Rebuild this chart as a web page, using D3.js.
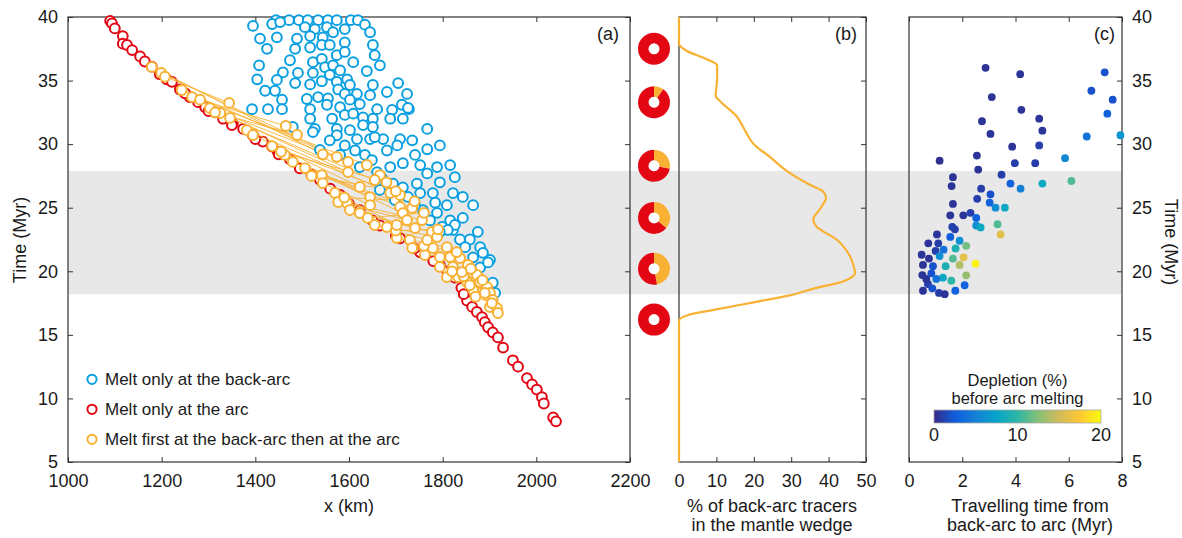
<!DOCTYPE html>
<meta charset="utf-8">
<head>
    <script src="https://d3js.org/d3.v7.min.js"></script>
    <style>
        body { margin: 0; background: #fff; }
        svg text { font-family: "Liberation Sans", Arial, Helvetica, sans-serif; }
    </style>
</head>
<body>
<svg></svg>
<script>

    // ---- data ----

    // (a) tracers that melt only at the arc (x in km, time in Myr)
    var redX = [1090,1094,1100,1117,1117,1126,1137,1154,1164,1179,1196,1211,1222,1239,1260,1278,1293,1314,1331,1352,
        1374,1395,1416,1436,1448,1474,1495,1538,1581,1623,1666,1709,1752,1794,1826,1852,1863,1873,1884,1890,
        1897,1907,1918,1929,1950,1961,1980,1991,2001,2012,2016,2036,2042,
        1250,1300,1350,1400,1450,1520,1560,1600,1650,1700,1740,1780,1810,1840,1845];
    var redT = [39.7,39.5,39.1,38.5,37.9,37.8,37.4,36.9,36.5,36.1,35.5,35.1,34.9,34.3,33.7,33.3,32.9,32.5,32.0,31.6,
        31.2,30.7,30.2,29.8,29.4,28.8,28.1,27.2,26.0,24.8,23.6,22.6,21.5,20.5,19.5,17.7,17.2,16.8,16.4,16.0,
        15.6,15.2,14.8,14.0,13.0,12.5,11.6,11.1,10.7,10.1,9.6,8.5,8.2,
        34.0,32.6,31.5,30.4,29.2,27.6,26.5,25.3,24.0,22.8,21.8,20.8,20.0,18.7,18.2];

    // (a) tracers that melt only at the back-arc
    var blueX = [1444,1472,1493,1512,1534,1555,1574,1604,1619,1395,1436,1453,1506,1527,1553,1566,1591,1634,1645,1410,
        1446,1489,1517,1544,1591,1651,1425,1485,1517,1542,1559,1574,1591,1655,1474,1523,1542,1549,1566,1609,
        1666,1408,1638,1459,1491,1523,1559,1581,1596,1404,1446,1485,1517,1542,1574,1602,1651,1705,1421,1442,
        1510,1534,1555,1577,1591,1617,1645,1681,1724,1457,1393,1427,1457,1517,1553,1581,1602,1623,1660,1692,
        1713,1728,1517,1564,1591,1609,1630,1651,1688,1715,1527,1574,1602,1630,1651,1767,1574,1617,1645,1673,
        1709,1767,1523,1655,1794,1741,1715,1688,1660,1623,1752,1788,1816,1794,1767,1745,1715,1694,1666,1779,
        1752,1822,1843,1865,1809,1758,1788,1843,1816,1799,1822,1875,1837,1858,1880,1848,1886,1901,1865,1880,
        1726,1826,1784,1826,1811,1897,1907,1912,1480,1591,1613,1634,1681,1703,1735,1649,1670,1698,1726,1741,
        1773,1794,1538,1559,1581];
    var blueT = [39.75,39.75,39.75,39.75,39.75,39.75,39.75,39.75,39.75,39.3,39.45,39.6,39.2,39.05,39.2,38.8,39.05,39.4,38.8,38.3,
        38.4,38.3,38.5,38.4,38.0,37.8,37.5,37.5,37.6,37.8,37.8,37.0,37.25,37.0,36.6,36.45,36.7,36.05,36.2,36.45,
        36.2,36.2,35.75,35.65,35.6,35.6,35.45,35.8,35.1,35.1,35.05,34.8,34.7,34.95,34.9,34.65,34.65,34.8,34.2,34.2,
        33.55,33.7,33.6,34.3,33.95,33.95,33.85,34.1,33.95,33.5,32.75,32.75,32.75,32.75,33.1,32.9,33.5,33.15,32.75,32.7,
        33.1,32.75,32.0,32.0,32.3,32.4,32.1,32.0,32.0,32.0,31.2,31.2,31.1,31.5,31.35,31.2,30.7,30.4,30.4,30.4,
        30.4,29.6,30.95,30.55,29.9,29.15,28.5,28.2,27.8,28.2,28.35,28.2,28.35,27.0,27.7,26.9,26.6,26.9,26.4,26.15,
        26.15,26.15,25.85,25.2,25.2,24.8,24.6,24.2,24.0,23.5,23.25,23.1,22.5,22.5,21.9,21.9,21.45,20.9,21.1,20.3,
        32.85,27.4,25.4,23.65,23.25,20.7,19.1,18.3,31.35,29.9,29.5,29.15,29.5,29.9,30.3,28.75,27.35,25.6,25.85,25.2,
        24.0,23.1,29.55,30.3,29.15];

    // (a) tracers that melt first at the back-arc then at the arc: arc position and back-arc position
    var orangeArcX = [1179,1199,1243,1265,1303,1325,1346,1382,1395,1436,1463,1480,1506,1542,1544,1570,1577,1596,1602,1623,
        1655,1681,1702,1730,1735,1762,1779,1794,1809,1822,1833,1852,1865,1880,1895,1901,1282,1314,1207,1858,
        1870,1845,1820,1760,1700,1640,1590,1520,1455];
    var orangeArcT = [36.07,35.6,34.26,33.7,32.84,32.45,32.06,31.1,30.72,29.85,29.15,28.6,28.12,27.57,26.94,26.16,25.45,25.37,24.82,24.58,
        23.64,23.48,22.62,22.46,21.83,21.28,21.83,20.34,19.55,20.34,19.55,19.16,18.53,19.08,18.13,17.19,33.5,32.5,35.3,18.9,
        18.0,19.6,20.0,22.0,23.2,24.2,25.8,27.5,29.4];
    var orangeBackX = [1544,1574,1598,1638,1666,1598,1655,1688,1623,1709,1645,1709,1735,1715,1645,1702,1724,1756,1741,1777,
        1767,1788,1809,1794,1816,1837,1854,1841,1865,1873,1880,1895,1901,1907,1916,1918,1465,1489,1344,1890,
        1905,1885,1860,1830,1790,1760,1740,1700,1680];
    var orangeBackT = [29.2,29.0,28.6,28.36,27.57,27.8,27.18,26.16,26.63,26.0,25.84,25.06,24.98,24.58,25.2,23.64,24.03,24.03,23.4,23.09,
        22.46,22.7,21.9,21.12,21.12,21.04,20.5,19.94,19.87,19.71,19.16,18.76,18.3,17.74,17.11,16.72,31.43,30.72,33.24,18.3,
        17.5,19.3,20.2,21.5,23.3,24.6,25.5,26.3,27.0];

    // (b) % of back-arc tracers in the mantle wedge
    var wedgeT = [40,37.9,37.35,36.7,36.2,35.2,33.8,33.3,32.2,31.1,30.0,29.0,27.9,26.8,26.25,25.8,24.9,24.1,23.5,22.5,
        21.4,20.3,19.9,19.2,18.7,18.1,17.6,17.0,16.6,16.1,5];
    var wedgePct = [0,0,2,7.3,10.2,10.2,9.8,11.3,15.4,17.6,20,24.3,28.8,35,38.6,39.3,37.7,35.9,36.8,42.1,
        45.3,46.8,47.1,43.9,36.8,29.6,20.7,10,2.9,0,0];

    // pie charts: share (%) of arc tracers that melted before at the back-arc
    var donutT = [37.5, 33.3, 28.3, 24.2, 20.2, 16.2];
    var donutOrange = [0, 10, 28, 36, 47, 0];

    // (c) travelling time (Myr), time (Myr), depletion (%)
    var travelX = [2.875,4.175,7.35,6.85,7.65,3.11,4.22,7.45,2.74,4.89,
        5.01,3.06,6.675,7.94,3.875,4.89,5.86,2.55,1.15,3.975,
        4.74,2.6,1.65,3.475,6.1,5.01,3.81,4.19,1.6,2.71,
        3.06,2.56,1.65,3.03,3.25,3.6,1.55,2.04,2.31,2.525,
        3.325,1.625,1.725,2.525,2.69,3.44,1.05,1.55,1.9,0.725,
        1.1,1.75,2.15,1.0,1.3,0.475,0.75,1.15,1.65,2.05,
        2.5,1.9,1.375,0.525,0.9,0.5,0.84,1.275,1.59,2.15,
        0.71,0.875,0.525,1.125,1.34,1.74,2.09,1.025,0.65];
    var travelT = [36.0,35.5,35.65,34.2,33.5,33.7,32.7,32.4,31.8,32.0,
        31.06,30.8,30.6,30.7,29.8,29.9,28.9,29.1,28.7,28.5,
        28.5,28.0,27.4,27.6,27.1,26.9,26.9,26.5,26.7,26.5,
        26.05,25.7,25.3,25.4,25.0,25.0,24.4,24.4,24.6,24.2,
        23.7,23.5,23.3,23.6,23.45,22.9,22.9,22.7,22.4,22.2,
        22.2,21.8,22.0,21.6,21.7,21.3,21.0,21.2,21.0,21.1,
        20.6,20.5,20.4,20.5,20.4,19.7,19.84,19.5,19.26,19.68,
        19.0,18.66,18.47,18.3,18.2,18.47,18.9,19.4,19.4];
    var depletion = [0.5,0.5,2,2,2,0.5,0.5,3,0.5,0.5,
        0.5,0.5,4,6.5,0.5,1,5.5,0.5,0.3,1,
        1,0.5,0.5,1,11,8,3,5,0.5,1,
        2,1,0.5,3,6,8,0.5,0.5,1,3,
        11,1,1,6,8,16,0.5,2.5,6,0.5,
        1,9,12,1,4,0.5,0.5,6,11,16,
        19.5,14,9,0.5,2,0.5,2,8,10,13,
        1,2,0.5,1,0.5,3,3,4,0.5];

    // shaded time window and ticks
    var bandT = [18.2, 27.9];
    var yTicks = [5, 10, 15, 20, 25, 30, 35, 40];
    var xaTicks = [1000, 1200, 1400, 1600, 1800, 2000, 2200];
    var xbTicks = [0, 10, 20, 30, 40, 50];
    var xcTicks = [0, 2, 4, 6, 8];
    var cbTicks = [0, 10, 20];

    // ---- layout / styles ----
    var width = 1182,
        height = 538,
        plotTop = 17,
        plotBottom = 462,
        font = '"Liberation Sans", Arial, sans-serif',
        fontSize = 18,
        legendSize = 17,
        red = '#e30613',
        blue = '#0a9fe0',
        orange = '#f8b133',
        axisColor = '#333';

    // MATLAB parula colormap
    var parula = ['#352a87','#0f5cdd','#1481d6','#06a4ca','#2eb7a4','#87bf77','#d1bb59','#fec832','#f9fb0e'];

    var svg = d3.select('svg')
        .attr('width', width)
        .attr('height', height);

    var y = d3.scaleLinear().domain([5, 40]).range([plotBottom, plotTop]);
    var xa = d3.scaleLinear().domain([1000, 2200]).range([68, 630]);
    var xb = d3.scaleLinear().domain([0, 50]).range([679, 866]);
    var xc = d3.scaleLinear().domain([0, 8]).range([909, 1122]);
    var cb = d3.scaleLinear().domain([0, 20]).range([934, 1101]);

    var color = d3.scaleLinear()
        .domain(parula.map(function (c, i) { return i * 20 / (parula.length - 1); }))
        .range(parula);

    var fmt = d3.format('d');

    // grey time window across all panels
    svg.append('rect')
        .attr('x', xa(1000))
        .attr('width', xc(8) - xa(1000))
        .attr('y', y(bandT[1]))
        .attr('height', y(bandT[0]) - y(bandT[1]))
        .attr('fill', '#e8e8e8');

    // panel frames
    [xa, xb, xc].forEach(function (s) {
        svg.append('rect')
            .attr('x', s.range()[0])
            .attr('y', plotTop)
            .attr('width', s.range()[1] - s.range()[0])
            .attr('height', plotBottom - plotTop)
            .attr('fill', 'none')
            .attr('stroke', axisColor)
            .attr('stroke-width', 1.2);
    });

    function addAxis(axis, tx, ty) {
        var g = svg.append('g')
            .attr('transform', 'translate(' + tx + ',' + ty + ')')
            .call(axis);
        g.select('.domain').remove();
        g.attr('font-size', fontSize).attr('font-family', font).attr('color', axisColor);
        g.selectAll('text').attr('fill', '#1a1a1a');
        return g;
    }

    // (a) axes, ticks inside on all four sides
    addAxis(d3.axisLeft(y).tickValues(yTicks).tickFormat(fmt).tickSize(-5).tickPadding(10), xa(1000), 0);
    addAxis(d3.axisRight(y).tickValues(yTicks).tickSize(-5).tickFormat(''), xa(2200), 0);
    addAxis(d3.axisBottom(xa).tickValues(xaTicks).tickFormat(fmt).tickSize(-5).tickPadding(12), 0, plotBottom);
    addAxis(d3.axisTop(xa).tickValues(xaTicks).tickSize(-5).tickFormat(''), 0, plotTop);

    // (b) axes
    addAxis(d3.axisRight(y).tickValues(yTicks).tickSize(-5).tickFormat(''), xb(50), 0);
    addAxis(d3.axisBottom(xb).tickValues(xbTicks).tickFormat(fmt).tickSize(-5).tickPadding(12), 0, plotBottom);
    addAxis(d3.axisTop(xb).tickValues(xbTicks).tickSize(-5).tickFormat(''), 0, plotTop);

    // (c) axes, labels on the right
    addAxis(d3.axisRight(y).tickValues(yTicks).tickFormat(fmt).tickSize(-5).tickPadding(10), xc(8), 0);
    addAxis(d3.axisBottom(xc).tickValues(xcTicks).tickFormat(fmt).tickSize(-5).tickPadding(12), 0, plotBottom);
    addAxis(d3.axisTop(xc).tickValues(xcTicks).tickSize(-5).tickFormat(''), 0, plotTop);

    // ---- panel (a) ----
    var ga = svg.append('g');

    ga.selectAll('.red')
        .data(d3.range(redX.length))
        .enter().append('circle')
        .attr('cx', function (i) { return xa(redX[i]); })
        .attr('cy', function (i) { return y(redT[i]); })
        .attr('r', 4.9)
        .attr('fill', '#fff')
        .attr('stroke', red)
        .attr('stroke-width', 2);

    ga.selectAll('.link')
        .data(d3.range(orangeArcX.length))
        .enter().append('line')
        .attr('x1', function (i) { return xa(orangeArcX[i]); })
        .attr('y1', function (i) { return y(orangeArcT[i]); })
        .attr('x2', function (i) { return xa(orangeBackX[i]); })
        .attr('y2', function (i) { return y(orangeBackT[i]); })
        .attr('stroke', orange)
        .attr('stroke-width', 0.9);

    ga.selectAll('.blue')
        .data(d3.range(blueX.length))
        .enter().append('circle')
        .attr('cx', function (i) { return xa(blueX[i]); })
        .attr('cy', function (i) { return y(blueT[i]); })
        .attr('r', 4.9)
        .attr('fill', '#fff')
        .attr('stroke', blue)
        .attr('stroke-width', 2);

    var orangePts = orangeArcX.map(function (x, i) { return [x, orangeArcT[i]]; })
        .concat(orangeBackX.map(function (x, i) { return [x, orangeBackT[i]]; }));

    ga.selectAll('.orange')
        .data(orangePts)
        .enter().append('circle')
        .attr('cx', function (d) { return xa(d[0]); })
        .attr('cy', function (d) { return y(d[1]); })
        .attr('r', 4.9)
        .attr('fill', '#fff')
        .attr('stroke', orange)
        .attr('stroke-width', 2);

    // legend
    var legendItems = [
        { label: 'Melt only at the back-arc', c: blue },
        { label: 'Melt only at the arc', c: red },
        { label: 'Melt first at the back-arc then at the arc', c: orange }
    ];
    var legend = svg.append('g')
        .selectAll('g')
        .data(legendItems)
        .enter().append('g')
        .attr('transform', function (d, i) { return 'translate(92,' + (379.3 + i * 30) + ')'; });
    legend.append('circle')
        .attr('r', 4.6)
        .attr('fill', 'none')
        .attr('stroke', function (d) { return d.c; })
        .attr('stroke-width', 2);
    legend.append('text')
        .attr('x', 13)
        .attr('y', 6)
        .attr('font-size', legendSize)
        .attr('fill', '#1a1a1a')
        .text(function (d) { return d.label; });

    // ---- panel (b) ----
    var wedgeLine = d3.line()
        .x(function (i) { return xb(wedgePct[i]); })
        .y(function (i) { return y(wedgeT[i]); })
        .curve(d3.curveMonotoneY);

    svg.append('path')
        .attr('d', wedgeLine(d3.range(wedgeT.length)))
        .attr('fill', 'none')
        .attr('stroke', orange)
        .attr('stroke-width', 2.2);

    // pie charts (white hole)
    var pie = d3.pie().sort(null);
    var donutArc = d3.arc().innerRadius(5.5).outerRadius(16);
    donutT.forEach(function (t, i) {
        var g = svg.append('g').attr('transform', 'translate(654,' + y(t) + ')');
        g.append('circle').attr('r', 6).attr('fill', '#fff');
        g.selectAll('path')
            .data(pie([donutOrange[i], 100 - donutOrange[i]]))
            .enter().append('path')
            .attr('d', donutArc)
            .attr('fill', function (d, j) { return j === 0 ? orange : red; });
    });

    // ---- panel (c) ----
    svg.append('g').selectAll('circle')
        .data(d3.range(travelX.length))
        .enter().append('circle')
        .attr('cx', function (i) { return xc(travelX[i]); })
        .attr('cy', function (i) { return y(travelT[i]); })
        .attr('r', 3.9)
        .attr('fill', function (i) { return color(depletion[i]); });

    // colour bar
    var grad = svg.append('defs').append('linearGradient').attr('id', 'parula');
    parula.forEach(function (c, i) {
        grad.append('stop')
            .attr('offset', (i / (parula.length - 1) * 100) + '%')
            .attr('stop-color', c);
    });
    svg.append('rect')
        .attr('x', cb(0)).attr('y', 410)
        .attr('width', cb(20) - cb(0)).attr('height', 13)
        .attr('fill', 'url(#parula)')
        .attr('stroke', '#aaa')
        .attr('stroke-width', 0.8);
    svg.selectAll('.cbt')
        .data(cbTicks)
        .enter().append('text')
        .attr('x', function (d) { return cb(d); })
        .attr('y', 441)
        .attr('text-anchor', 'middle')
        .attr('font-size', fontSize)
        .attr('fill', '#1a1a1a')
        .text(function (d) { return d; });
    svg.append('text')
        .attr('x', cb(10)).attr('y', 385.5)
        .attr('text-anchor', 'middle').attr('font-size', 16.5).attr('fill', '#1a1a1a')
        .text('Depletion (%)');
    svg.append('text')
        .attr('x', cb(10)).attr('y', 404)
        .attr('text-anchor', 'middle').attr('font-size', 16.5).attr('fill', '#1a1a1a')
        .text('before arc melting');

    // ---- labels ----
    function label(txt, x, yy, anchor, rot) {
        var t = svg.append('text')
            .attr('transform', 'translate(' + x + ',' + yy + ')' + (rot ? ' rotate(' + rot + ')' : ''))
            .attr('text-anchor', anchor)
            .attr('font-size', fontSize)
            .attr('fill', '#1a1a1a')
            .text(txt);
        return t;
    }
    label('(a)', 619, 40, 'end');
    label('(b)', 857, 40, 'end');
    label('(c)', 1115, 40, 'end');
    label('x (km)', 349, 512, 'middle');
    label('% of back-arc tracers', 772, 512, 'middle');
    label('in the mantle wedge', 772, 531, 'middle');
    label('Travelling time from', 1030, 512, 'middle');
    label('back-arc to arc (Myr)', 1030, 531, 'middle');
    label('Time (Myr)', 25.5, 240, 'middle', -90);
    label('Time (Myr)', 1164.5, 242, 'middle', 90);

</script>
</body>
